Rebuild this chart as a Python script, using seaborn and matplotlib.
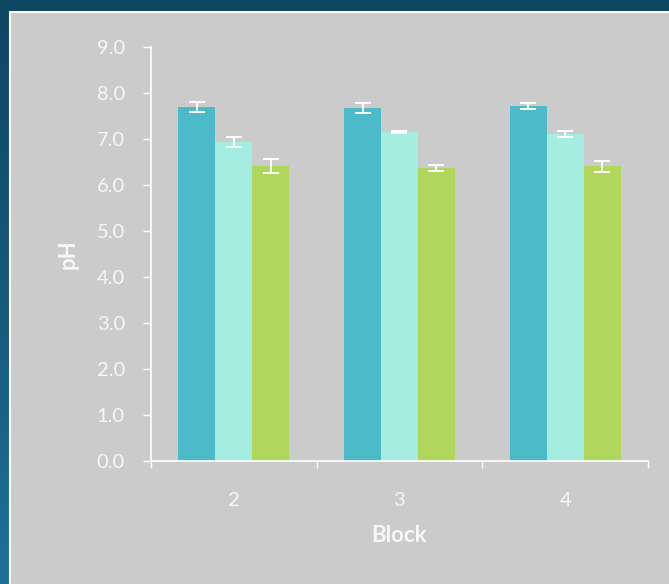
import numpy as np
import pandas as pd
import matplotlib
matplotlib.use("Agg")
import matplotlib.pyplot as plt
from matplotlib.colors import LinearSegmentedColormap
from matplotlib.patches import Rectangle
import seaborn as sns

# Mean pH per block for the three treatments, with their error half-widths
blocks = ["2", "3", "4"]
treatments = ["T1", "T2", "T3"]
ph_t1 = [7.70, 7.68, 7.72]
ph_t2 = [6.93, 7.15, 7.11]
ph_t3 = [6.41, 6.37, 6.41]
err_t1 = [0.11, 0.11, 0.06]
err_t2 = [0.11, 0.03, 0.065]
err_t3 = [0.15, 0.07, 0.12]
yticks = [0, 1, 2, 3, 4, 5, 6, 7, 8, 9]

colors = ["#4dbac9", "#a5ede0", "#b0d65c"]
text_color = "#f7f7f7"

df = pd.DataFrame({
    "Block": blocks * 3,
    "Treatment": [t for t in treatments for _ in blocks],
    "pH": ph_t1 + ph_t2 + ph_t3,
})
errors = {"T1": err_t1, "T2": err_t2, "T3": err_t3}

sns.set_theme(style="white")
plt.rcParams["font.family"] = ["Lato", "DejaVu Sans"]

fig = plt.figure(figsize=(6.69, 5.84), dpi=100)

# Dark blue backdrop with a soft vertical gradient
bg = fig.add_axes([0, 0, 1, 1], zorder=-10)
cmap = LinearSegmentedColormap.from_list("bg", ["#0e4561", "#16597c", "#1f7098"])
grad = np.linspace(0, 1, 256).reshape(-1, 1)
bg.imshow(grad, aspect="auto", cmap=cmap, extent=[0, 1, 0, 1], origin="upper")
bg.set_axis_off()

# Light gray panel with a thin white rim
panel = Rectangle((9.5 / 669, -0.01), 1.0, (584 - 11.5) / 584 + 0.01,
                  transform=fig.transFigure, facecolor="#cbcbcb",
                  edgecolor="white", linewidth=1.5, zorder=-5)
fig.patches.append(panel)

ax = fig.add_axes([151 / 669, 123 / 584, 497 / 669, 414 / 584])
ax.set_facecolor("none")

sns.barplot(data=df, x="Block", y="pH", hue="Treatment", order=blocks,
            hue_order=treatments, palette=colors, width=0.67, saturation=1,
            errorbar=None, legend=False, ax=ax, linewidth=0)

# Error bars placed on each bar from the container geometry
for container, t in zip(ax.containers, treatments):
    xs = [p.get_x() + p.get_width() / 2 for p in container.patches]
    hs = [p.get_height() for p in container.patches]
    ax.errorbar(xs, hs, yerr=errors[t], fmt="none", ecolor="white",
                elinewidth=1.4, capsize=5.8, capthick=1.4, zorder=5)

ax.set_ylim(0, 9)
ax.set_xlim(-0.5, 2.5)
ax.set_yticks(yticks)
ax.set_yticklabels([f"{v:.1f}" for v in yticks])

# Category separators as major ticks, labels centred via minor ticks
ax.set_xticks([-0.5, 0.5, 1.5, 2.5])
ax.set_xticklabels([])
ax.set_xticks([0, 1, 2], minor=True)
ax.set_xticklabels(blocks, minor=True)

for side in ["top", "right"]:
    ax.spines[side].set_visible(False)
for side in ["left", "bottom"]:
    ax.spines[side].set_color("white")
    ax.spines[side].set_linewidth(1.2)

ax.tick_params(axis="y", which="major", direction="out", length=5.8, width=1,
               color="white", labelcolor=text_color, labelsize=14.5, pad=13, left=True)
ax.tick_params(axis="x", which="major", direction="out", length=5, width=1,
               color="white", bottom=True)
ax.tick_params(axis="x", which="minor", length=0, labelcolor=text_color,
               labelsize=14.5, pad=22)

ax.set_xlabel("Block", color=text_color, fontsize=16, fontweight="bold", labelpad=12)
ax.set_ylabel("pH", color=text_color, fontsize=16, fontweight="bold", labelpad=13)

fig.savefig("out.png", dpi=100)
